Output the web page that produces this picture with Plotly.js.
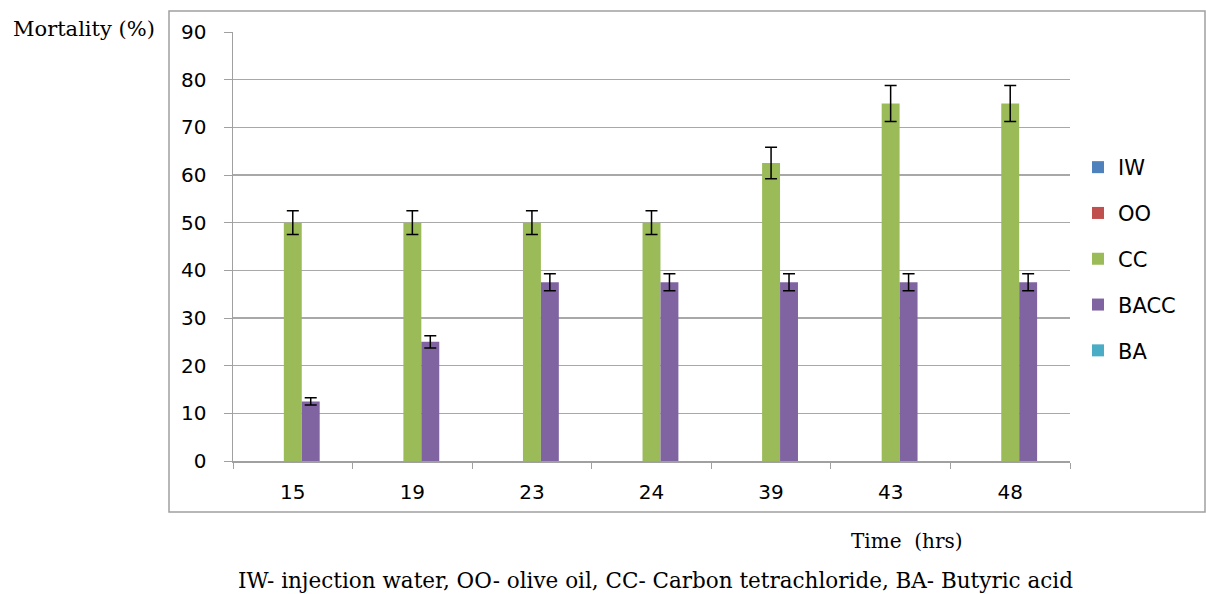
<!DOCTYPE html>
<html><head><meta charset="utf-8">
<script src="https://cdn.plot.ly/plotly-3.0.1.min.js"></script>
<style>html,body{margin:0;padding:0;background:#fff}#chart{width:1206px;height:594px}</style>
</head><body><div id="chart"></div>
<script>
const times = ["15","19","23","24","39","43","48"];
const seriesNames = ["IW","OO","CC","BACC","BA"];
const IW = [0,0,0,0,0,0,0];
const OO = [0,0,0,0,0,0,0];
const CC = [50,50,50,50,62.5,75,75];
const CC_err = [2.5,2.5,2.5,2.5,3.3,3.8,3.8];
const BACC = [12.5,25,37.5,37.5,37.5,37.5,37.5];
const BACC_err = [0.75,1.3,1.8,1.8,1.8,1.8,1.8];
const BA = [0,0,0,0,0,0,0];
const yTicks = [0,10,20,30,40,50,60,70,80,90];

const colors = {IW:"#4f81bd",OO:"#c0504d",CC:"#9bbb59",BACC:"#8064a2",BA:"#4bacc6"};
const vals = {IW, OO, CC, BACC, BA};
const errs = {CC: CC_err, BACC: BACC_err};

const traces = seriesNames.map(n => {
  const t = {type:"bar", name:n, x:times, y:vals[n], legendgroup:n,
    marker:{color:colors[n], line:{width:0}}};
  if (errs[n]) t.error_y = {type:"data", array:errs[n], visible:true, color:"#000", thickness:1.5, width:6};
  return t;
});

const W = 837, H = 429, L = 233, T = 32;
const px = x => (x - L) / W;
const py = y => (T + H - y) / H;
const serif = "DejaVu Serif, Times New Roman, serif";

const layout = {
  width:1206, height:594,
  margin:{l:233, r:136, t:32, b:133},
  paper_bgcolor:"#fff", plot_bgcolor:"#fff",
  barmode:"group", bargap:0.25, bargroupgap:0,
  font:{family:"DejaVu Sans, sans-serif", size:20, color:"#000"},
  xaxis:{type:"category", tickson:"boundaries", ticks:"outside", ticklen:6, tickcolor:"#a0a0a0",
    showline:true, linecolor:"#a0a0a0", linewidth:1.5, showgrid:false,
    tickfont:{size:20}, ticklabelstandoff:12},
  yaxis:{range:[0,90], tickvals:yTicks, ticks:"outside", ticklen:8, tickcolor:"#a0a0a0",
    showline:true, linecolor:"#a0a0a0", linewidth:1.5, showgrid:true, gridcolor:"#a8a8a8", gridwidth:1.2,
    zeroline:false, tickfont:{size:20}, ticklabelstandoff:13},
  legend:{x:px(1078), xanchor:"left", y:py(147), yanchor:"top", tracegroupgap:15.5,
    font:{size:21}, bgcolor:"rgba(0,0,0,0)"},
  shapes:[{type:"rect", xref:"paper", yref:"paper", x0:px(169), x1:px(1205), y0:py(512), y1:py(11),
    line:{color:"#a0a0a0", width:1.5}, fillcolor:"rgba(0,0,0,0)", layer:"below"}],
  annotations:[
    {text:"Mortality (%)", xref:"paper", yref:"paper", x:px(84), y:py(29), xanchor:"center", yanchor:"middle", showarrow:false,
      font:{family:serif, size:21}},
    {text:"Time  (hrs)", xref:"paper", yref:"paper", x:px(907), y:py(541), xanchor:"center", yanchor:"middle", showarrow:false,
      font:{family:serif, size:20}},
    {text:"IW- injection water, OO- olive oil, CC- Carbon tetrachloride, BA- Butyric acid", xref:"paper", yref:"paper",
      x:px(655), y:py(580), xanchor:"center", yanchor:"middle", showarrow:false, font:{family:serif, size:21.5}}
  ]
};
Plotly.newPlot("chart", traces, layout, {displayModeBar:false, staticPlot:true});
</script></body></html>
